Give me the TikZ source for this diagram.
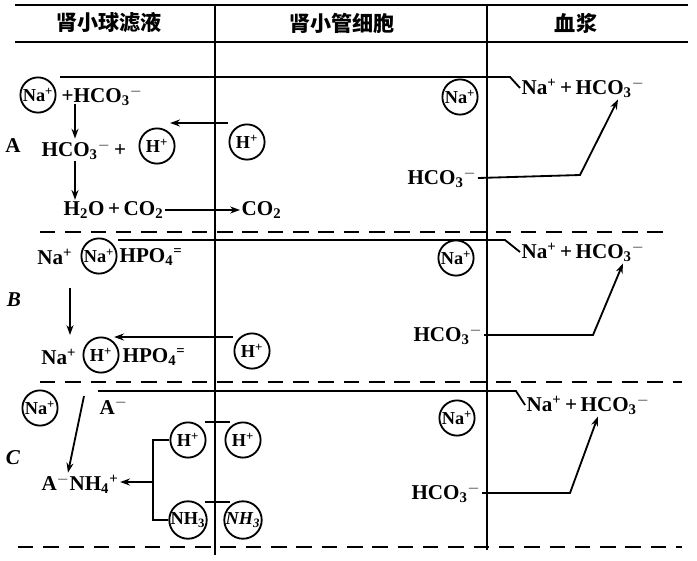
\documentclass[tikz,border=0pt]{standalone}
\usepackage{fontspec}
\setmainfont{Liberation Serif}
\newfontfamily\cjk{Noto Sans CJK SC}
\usetikzlibrary{arrows.meta}
\newcommand{\sbsp}[2]{\textsubscript{#1}\textsuperscript{#2}}

\begin{document}
\begin{tikzpicture}[x=0.025cm, y=-0.025cm,
  every node/.style={font=\bfseries\fontsize{15}{17}\selectfont, inner sep=1pt},
  ion/.style={circle, draw, line width=1.3pt, minimum size=0.88cm, inner sep=0pt,
    font=\bfseries\fontsize{13}{15}\selectfont},
  head/.style={font=\cjk\bfseries\fontsize{15}{18}\selectfont},
  wall/.style={line width=1.5pt},
  divider/.style={line width=2pt, dash pattern=on 11pt off 7pt},
  arr/.style={line width=1.3pt, -{Stealth[length=7pt, width=5pt]}},
  link/.style={line width=1.3pt}]
\useasboundingbox (0,0) rectangle (697,560);

\draw[line width=2pt] (15,5) -- (688,5);
\draw[wall] (15,42) -- (688,42);
\draw[wall] (215,5) -- (215,555);
\draw[wall] (487,5) -- (487,550);
\draw[divider] (40,232) -- (670,232);
\draw[divider] (40,382) -- (682,382);
\draw[divider] (18,547) -- (682,547);

\node[head] (h1) at (109,23) {肾小球滤液};
\node[head] (h2) at (342,23) {肾小管细胞};
\node[head] (h3) at (576,23) {血浆};

\node (la) at (13,146) {A};
\node[ion] (naA) at (38,95) {Na\textsuperscript{+}};
\node[anchor=west] (hcoA) at (60,96) {+HCO\sbsp{3}{$-$}};
\node[anchor=west] (hcoA2) at (40,150) {HCO\sbsp{3}{$-$}\,+};
\node[ion] (hfA) at (157,146) {H\textsuperscript{+}};
\node[ion] (hcA) at (247,142) {H\textsuperscript{+}};
\node[anchor=west] (h2o) at (62,210) {H\textsubscript{2}O\,+\,CO\textsubscript{2}};
\node[anchor=west] (co2) at (240,210) {CO\textsubscript{2}};
\node[ion] (ncA) at (460,97) {Na\textsuperscript{+}};
\node[anchor=east] (hcA3) at (478,178) {HCO\sbsp{3}{$-$}};
\node[anchor=west] (blA) at (520,88) {Na\textsuperscript{+}\,+\,HCO\sbsp{3}{$-$}};

\draw[link] (hcoA.north west |- 0,77) -- (510,77) -- (blA.west);
\draw[arr] (75,104) -- (hcoA2.north west -| 75,0);
\draw[arr] (hcoA2.south west -| 75,0) -- (h2o.north west -| 75,0);
\draw[arr] (hcA.west |- 0,123) -- (hfA.45 |- 0,123);
\draw[arr] (h2o.east) -- (co2.west);
\draw[arr] (hcA3.east) -- (580,175) -- (blA.south -| 618,0);

\node (lb) at (14,300) {\itshape B};
\node[anchor=east] (naB) at (74,257) {Na\textsuperscript{+}};
\node[ion] (nfB) at (99,256) {Na\textsuperscript{+}};
\node[anchor=west] (hpoB) at (118,257) {HPO\sbsp{4}{=}};
\node[anchor=east] (naB2) at (78,357) {Na\textsuperscript{+}};
\node[ion] (hfB) at (101,355) {H\textsuperscript{+}};
\node[anchor=west] (hpoB2) at (121,357) {HPO\sbsp{4}{=}};
\node[ion] (hcB) at (252,351) {H\textsuperscript{+}};
\node[ion] (ncB) at (456,258) {Na\textsuperscript{+}};
\node[anchor=east] (hcB3) at (484,335) {HCO\sbsp{3}{$-$}};
\node[anchor=west] (blB) at (520,252) {Na\textsuperscript{+}\,+\,HCO\sbsp{3}{$-$}};

\draw[link] (hpoB.north west |- 0,240) -- (505,240) -- (blB.west);
\draw[arr] (70,288) -- (70,335);
\draw[arr] (hcB.west |- 0,337) -- (hfB.45 |- 0,337);
\draw[arr] (hcB3.east) -- (593,335) -- (blB.south -| 623,0);

\node (lc) at (13,458) {\itshape C};
\node[ion] (nfC) at (40,408) {Na\textsuperscript{+}};
\node[anchor=west] (aC) at (98,406) {A\textsuperscript{$-$}};
\node[anchor=west] (anh) at (40,484) {A\textsuperscript{$-$}NH\sbsp{4}{+}};
\node[ion] (hfC) at (188,440) {H\textsuperscript{+}};
\node[ion] (hcC) at (243,440) {H\textsuperscript{+}};
\node[ion] (nfC2) at (188,520) {NH\textsubscript{3}};
\node[ion] (ncC2) at (243,520) {\itshape NH\textsubscript{3}};
\node[ion] (ncC) at (457,418) {Na\textsuperscript{+}};
\node[anchor=east] (hcC3) at (482,493) {HCO\sbsp{3}{$-$}};
\node[anchor=west] (blC) at (525,405) {Na\textsuperscript{+}\,+\,HCO\sbsp{3}{$-$}};

\coordinate (kn) at (153,482);
\draw[link] (aC.north west |- 0,391) -- (516,391) -- (blC.west);
\draw[arr] (84,396) -- (anh.north west -| 68,0);
\draw[link] (205,422) -- (230,422);
\draw[link] (205,502) -- (230,502);
\draw[link] (hfC.west) -- (hfC.west -| kn) -- (nfC2.west -| kn) -- (nfC2.west);
\draw[arr] (kn) -- (anh.east |- kn);
\draw[arr] (hcC3.east) -- (570,493) -- (blC.south -| 598,0);
\end{tikzpicture}
\end{document}
